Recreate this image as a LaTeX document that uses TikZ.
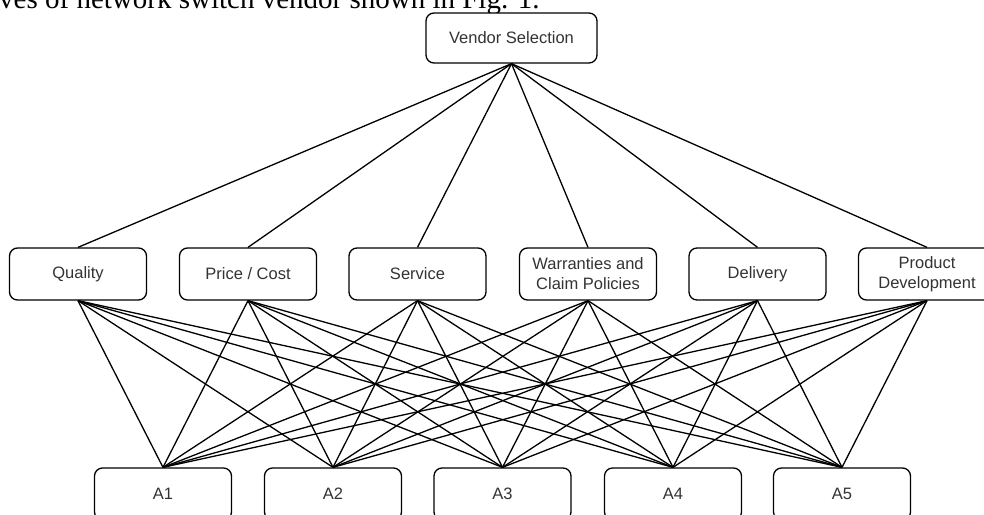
\documentclass[tikz,border=0pt]{standalone}
\usepackage{fontspec}
\setmainfont{Liberation Sans}
\newfontfamily\capfont{Liberation Serif}
\definecolor{txt}{HTML}{333333}
\begin{document}
\begin{tikzpicture}[x=1pt,y=-1pt,
  box/.style={draw=black, line width=1.3pt, rounded corners=8pt, fill=white,
    minimum width=137pt, minimum height=52pt, align=center, text=txt,
    font=\fontsize{16.5}{20}\selectfont, inner sep=0pt},
  link/.style={line width=1.3pt, black}]
\useasboundingbox (0,0) rectangle (984,514);
\node[anchor=base west, inner sep=0pt, font=\capfont\fontsize{29}{32}\selectfont] (cap) at (-1,9) {ves of network switch vendor shown in Fig. 1.};
\node[box, minimum width=171pt, minimum height=50pt] (vs) at (511.5,38) {Vendor Selection};
\node[box] (c1) at (78,274) {Quality};
\node[box] (c2) at (248,274) {Price / Cost};
\node[box] (c3) at (417.5,274) {Service};
\node[box] (c4) at (588,274) {Warranties and\\Claim Policies};
\node[box] (c5) at (757.5,274) {Delivery};
\node[box] (c6) at (927,274) {Product\\Development};
\node[box] (a1) at (163,494) {A1};
\node[box] (a2) at (333,494) {A2};
\node[box] (a3) at (502.5,494) {A3};
\node[box] (a4) at (673,494) {A4};
\node[box] (a5) at (842,494) {A5};
\foreach \c in {c1,c2,c3,c4,c5,c6}{
  \draw[link] (vs.south) -- (\c.north);
  \foreach \a in {a1,a2,a3,a4,a5}{
    \draw[link] (\c.south) -- (\a.north);
  }
}
\end{tikzpicture}
\end{document}
